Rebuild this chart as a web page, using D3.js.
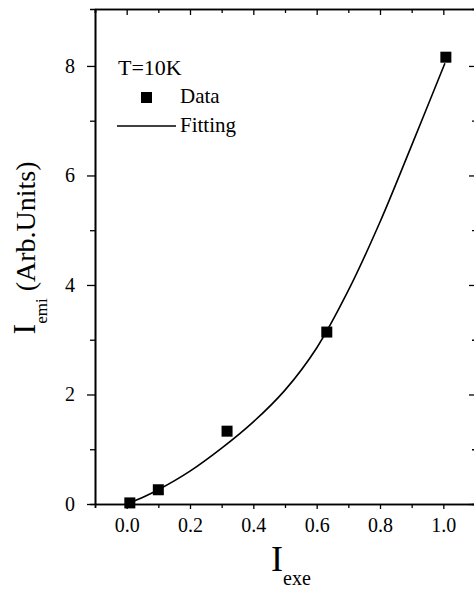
<!DOCTYPE html>
<html>
<head>
<meta charset="utf-8">
<script src="https://cdn.jsdelivr.net/npm/d3@7"></script>
<style>
    body { margin: 0; background: #fff; }
</style>
</head>
<body>
<div id="chart"></div>
<script>
// measured points
var dataX = [0.01, 0.10, 0.317, 0.632, 1.008];
var dataY = [0.02, 0.26, 1.33, 3.14, 8.16];

// fitting curve
var fitX = [0, 0.05, 0.1, 0.2, 0.3, 0.4, 0.5, 0.6, 0.7, 0.8, 0.9, 1.005];
var fitY = [0, 0.12, 0.26, 0.6, 1.02, 1.5, 2.08, 2.85, 3.9, 5.15, 6.55, 8.05];

var xMajor = [0, 0.2, 0.4, 0.6, 0.8, 1.0];
var xMinor = [-0.1, 0.1, 0.3, 0.5, 0.7, 0.9];
var yMajor = [0, 2, 4, 6, 8];
var yMinor = [1, 3, 5, 7];

var serif = '"Liberation Serif", "DejaVu Serif", serif';

var width = 474,
    height = 589;

var svg = d3.select("#chart").append("svg")
    .attr("width", width)
    .attr("height", height)
    .style("font-family", serif);

var x = d3.scaleLinear().domain([-0.1, 1.1]).range([95, 475]);
var y = d3.scaleLinear().domain([0, 9.04]).range([504, 9]);

function styleAxis(g) {
    g.attr("font-family", null);
    g.selectAll("path.domain").attr("stroke", "#000").attr("stroke-width", 1.6);
    g.selectAll(".tick line").attr("stroke", "#000").attr("stroke-width", 1.3);
    g.selectAll("text").attr("fill", "#000")
        .style("font-family", serif)
        .style("font-size", "20px");
}

// minor ticks first, major axes on top
svg.append("g").attr("transform", "translate(0,504)")
    .call(d3.axisBottom(x).tickValues(xMinor).tickSize(4).tickFormat(""))
    .call(styleAxis);
svg.append("g").attr("transform", "translate(0,9)")
    .call(d3.axisTop(x).tickValues(xMinor).tickSize(-4).tickFormat(""))
    .call(styleAxis);
svg.append("g").attr("transform", "translate(95,0)")
    .call(d3.axisLeft(y).tickValues(yMinor).tickSize(5).tickFormat(""))
    .call(styleAxis);
svg.append("g").attr("transform", "translate(475,0)")
    .call(d3.axisRight(y).tickValues(yMinor).tickSize(-3).tickFormat(""))
    .call(styleAxis);

svg.append("g").attr("transform", "translate(0,504)")
    .call(d3.axisBottom(x).tickValues(xMajor).tickSizeInner(5).tickSizeOuter(0)
        .tickPadding(9).tickFormat(d3.format(".1f")))
    .call(styleAxis);
svg.append("g").attr("transform", "translate(0,9)")
    .call(d3.axisTop(x).tickValues(xMajor).tickSizeInner(-6).tickSizeOuter(0).tickFormat(""))
    .call(styleAxis);
svg.append("g").attr("transform", "translate(95,0)")
    .call(d3.axisLeft(y).tickValues(yMajor).tickSizeInner(8).tickSizeOuter(0)
        .tickPadding(12).tickFormat(d3.format("d")))
    .call(styleAxis);
svg.append("g").attr("transform", "translate(475,0)")
    .call(d3.axisRight(y).tickValues(yMajor).tickSizeInner(-6).tickSizeOuter(0).tickFormat(""))
    .call(styleAxis);

// fitting line
var fit = fitX.map(function (d, i) { return [d, fitY[i]]; });
var line = d3.line()
    .x(function (d) { return x(d[0]); })
    .y(function (d) { return y(d[1]); })
    .curve(d3.curveCatmullRom.alpha(0.5));

svg.append("path")
    .datum(fit)
    .attr("d", line)
    .attr("fill", "none")
    .attr("stroke", "#000")
    .attr("stroke-width", 1.6);

// data squares
var sq = 11;
svg.append("g").selectAll("rect")
    .data(dataX.map(function (d, i) { return [d, dataY[i]]; }))
    .enter().append("rect")
    .attr("x", function (d) { return x(d[0]) - sq / 2; })
    .attr("y", function (d) { return y(d[1]) - sq / 2; })
    .attr("width", sq)
    .attr("height", sq)
    .attr("fill", "#000");

// legend
var leg = svg.append("g");
leg.append("text").attr("x", 118).attr("y", 75).style("font-size", "22px").text("T=10K");
leg.append("rect").attr("x", 141).attr("y", 92).attr("width", sq).attr("height", sq).attr("fill", "#000");
leg.append("text").attr("x", 180).attr("y", 103).style("font-size", "21px").text("Data");
leg.append("line").attr("x1", 117).attr("x2", 176).attr("y1", 126).attr("y2", 126)
    .attr("stroke", "#000").attr("stroke-width", 1.3);
leg.append("text").attr("x", 180).attr("y", 132).style("font-size", "21px").text("Fitting");

// axis titles
var xt = svg.append("text").attr("x", 271).attr("y", 571);
xt.append("tspan").style("font-size", "36px").text("I");
xt.append("tspan").style("font-size", "20px").attr("dy", 14).text("exe");

var yt = svg.append("text")
    .attr("transform", "translate(35,248) rotate(-90)")
    .attr("text-anchor", "middle");
yt.append("tspan").style("font-size", "32px").text("I");
yt.append("tspan").style("font-size", "17px").attr("dy", 12).text("emi");
yt.append("tspan").style("font-size", "28px").attr("dy", -12).text(" (Arb.Units)");
</script>
</body>
</html>
